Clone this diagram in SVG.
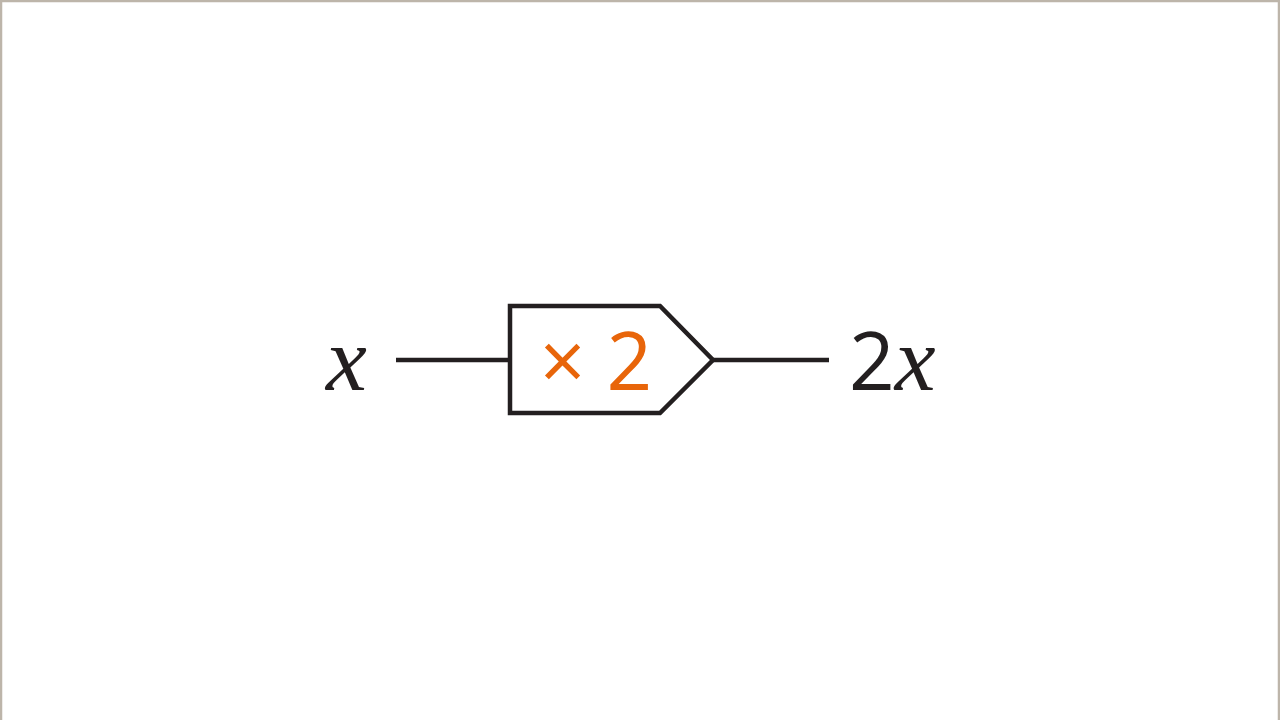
<svg xmlns="http://www.w3.org/2000/svg" width="1280" height="720" viewBox="0 0 1280 720">
<style>
.ln{stroke:#231f20;stroke-width:4.5;fill:none}
.var{font-family:"Liberation Serif",serif;font-style:italic;font-size:92px;fill:#231f20}
.num{font-family:"Open Sans","Noto Sans",sans-serif;font-size:80px;fill:#231f20}
.op{font-family:"Open Sans","Noto Sans",sans-serif;font-size:80px;fill:#e8650a}
</style>
<rect x="0" y="0" width="1280" height="720" fill="#ffffff"/>
<path d="M1,720 V1 H1279 V720" fill="none" stroke="#bdb5aa" stroke-width="2.5"/>
<g id="connectors">
<line class="ln" x1="396" y1="360" x2="510" y2="360"/>
<line class="ln" x1="713" y1="360" x2="829" y2="360"/>
</g>
<g id="input">
<text class="var" x="326" y="390">x</text>
</g>
<g id="function">
<path class="ln" d="M510,306 L660,306 L713,360 L660,413 L510,413 Z" fill="#ffffff"/>
<text class="op" x="596" y="390" text-anchor="middle">× 2</text>
</g>
<g id="output">
<text x="849" y="390"><tspan class="num">2</tspan><tspan class="var">x</tspan></text>
</g>
</svg>
